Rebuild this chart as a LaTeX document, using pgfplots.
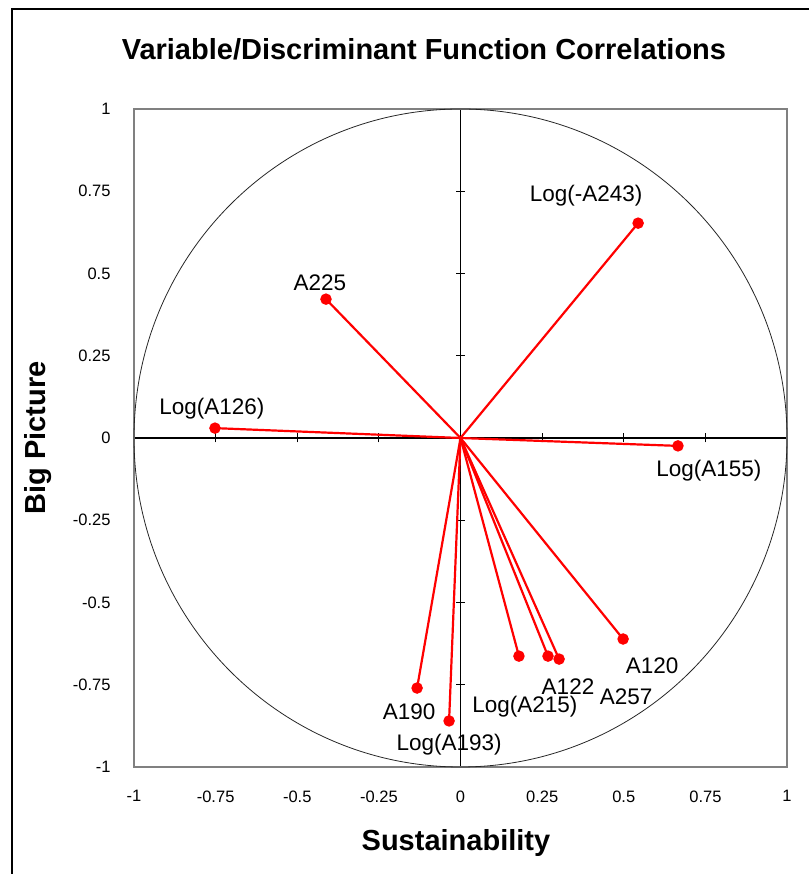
\documentclass[border=0pt]{standalone}
\usepackage{fontspec}
\setmainfont{Liberation Sans}
\usepackage{pgfplots}
\pgfplotsset{compat=1.18}
\begin{document}
\begin{tikzpicture}[x=1pt,y=1pt]
\useasboundingbox (0,0) rectangle (809,874);
\draw[line width=1.8pt] (12,0) -- (12,865) -- (809,865);
% centre axes with crossing ticks
\begin{axis}[at={(134pt,107pt)}, anchor=south west, scale only axis,
  width=653pt, height=658pt, xmin=-1, xmax=1, ymin=-1, ymax=1,
  axis lines=center, axis line style={-, black, line width=1.1pt},
  xtick={-1,-0.75,-0.5,-0.25,0.25,0.5,0.75,1},
  ytick={-1,-0.75,-0.5,-0.25,0.25,0.5,0.75,1},
  xticklabels={}, yticklabels={},
  tick align=center, major tick length=9pt,
  tick style={black, line width=0.9pt}]
\end{axis}
\begin{axis}[at={(134pt,107pt)}, anchor=south west, scale only axis,
  width=653pt, height=658pt, xmin=-1, xmax=1, ymin=-1, ymax=1,
  clip=false,
  axis line style={gray, line width=1.1pt},
  xtick={-1,-0.75,-0.5,-0.25,0,0.25,0.5,0.75,1},
  ytick={-1,-0.75,-0.5,-0.25,0,0.25,0.5,0.75,1},
  /pgf/number format/assume math mode=true,
  /pgf/number format/fixed,
  major tick length=0pt,
  every tick label/.append style={font=\fontsize{16.5}{20}\selectfont},
  xticklabel style={yshift=-20pt, font=\fontsize{16.5}{20}\selectfont},
  yticklabel style={xshift=-20pt, font=\fontsize{16.5}{20}\selectfont},
  title={Variable/Discriminant Function Correlations},
  title style={font=\bfseries\fontsize{29}{34}\selectfont, at={(axis description cs:0.444,1.082)}, anchor=center},
  xlabel={Sustainability},
  ylabel={Big Picture},
  xlabel style={font=\bfseries\fontsize{29}{34}\selectfont, at={(axis description cs:0.493,-0.1155)}, anchor=center},
  ylabel style={font=\bfseries\fontsize{29}{34}\selectfont, at={(axis description cs:-0.147,0.5)}, anchor=center, rotate=0},
  vec/.style={red, line width=2.2pt, mark=*, mark size=4.6pt, mark indices={2}, mark options={fill=red, draw=red, solid}},
  ]
\draw[line width=0.8pt, black!85] (axis cs:0,0) ellipse [x radius=1, y radius=1];
\addplot[vec] coordinates {(0,0) (0.544,0.653)};
\addplot[vec] coordinates {(0,0) (-0.412,0.422)};
\addplot[vec] coordinates {(0,0) (-0.752,0.030)};
\addplot[vec] coordinates {(0,0) (0.666,-0.024)};
\addplot[vec] coordinates {(0,0) (0.498,-0.611)};
\addplot[vec] coordinates {(0,0) (0.302,-0.672)};
\addplot[vec] coordinates {(0,0) (0.268,-0.663)};
\addplot[vec] coordinates {(0,0) (0.179,-0.663)};
\addplot[vec] coordinates {(0,0) (-0.133,-0.760)};
\addplot[vec] coordinates {(0,0) (-0.035,-0.860)};
\begin{scope}[every node/.style={font=\fontsize{22.5}{27}\selectfont, inner sep=0pt, anchor=center}]
\node[xshift=-52pt, yshift=27pt] at (axis cs:0.544,0.653) {Log(-A243)};
\node[xshift=-6pt, yshift=16pt] at (axis cs:-0.412,0.422) {A225};
\node[xshift=-3pt, yshift=19pt] at (axis cs:-0.752,0.030) {Log(A126)};
\node[xshift=31pt, yshift=-25pt] at (axis cs:0.666,-0.024) {Log(A155)};
\node[xshift=29pt, yshift=-27pt] at (axis cs:0.498,-0.611) {A120};
\node[xshift=67pt, yshift=-38pt] at (axis cs:0.302,-0.672) {A257};
\node[xshift=20pt, yshift=-31pt] at (axis cs:0.268,-0.663) {A122};
\node[xshift=6pt, yshift=-51pt] at (axis cs:0.179,-0.663) {Log(A215)};
\node[xshift=-8pt, yshift=-24pt] at (axis cs:-0.133,-0.760) {A190};
\node[xshift=0pt, yshift=-24pt] at (axis cs:-0.035,-0.860) {Log(A193)};
\end{scope}
\end{axis}
\end{tikzpicture}
\end{document}
